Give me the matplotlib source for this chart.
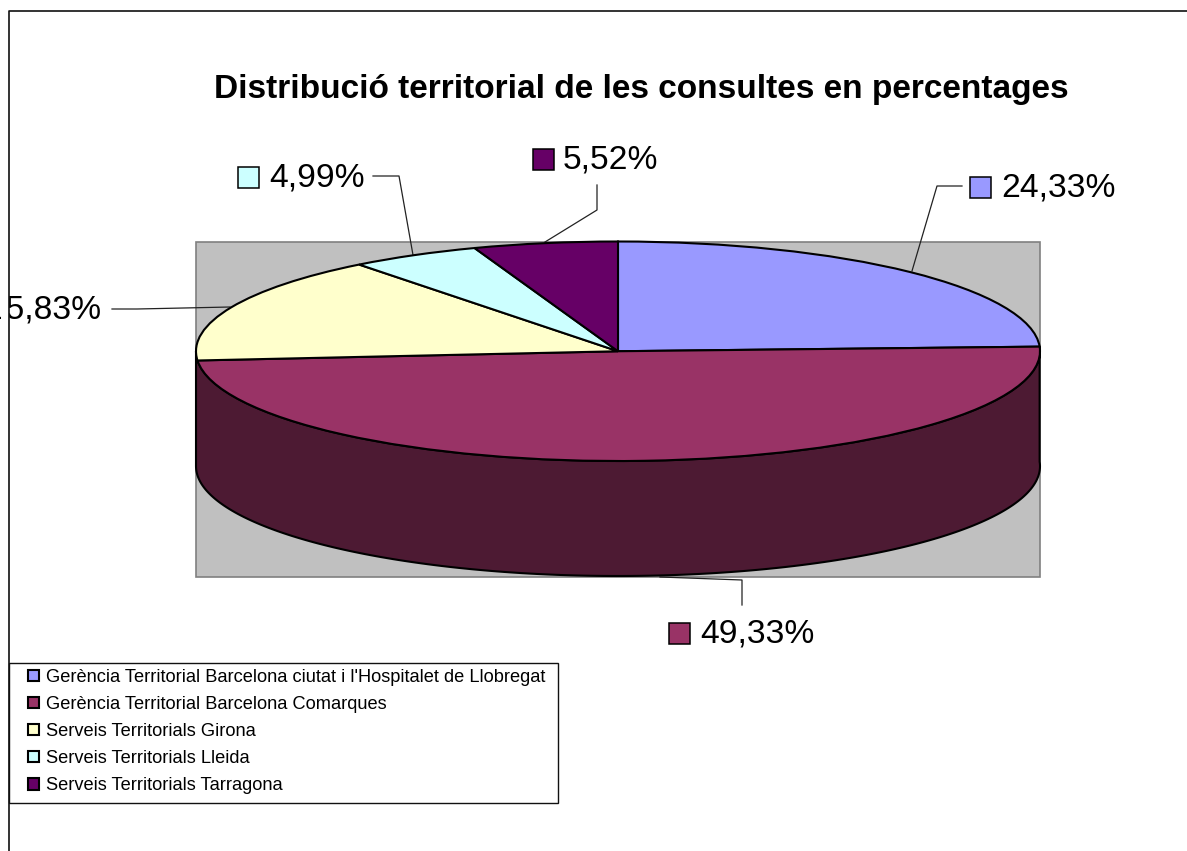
import numpy as np
import matplotlib
matplotlib.use('Agg')
import matplotlib.pyplot as plt
from matplotlib.patches import Rectangle

W, H = 1187, 851

# data
categories = ["Gerència Territorial Barcelona ciutat i l'Hospitalet de Llobregat",
              "Gerència Territorial Barcelona Comarques",
              "Serveis Territorials Girona",
              "Serveis Territorials Lleida",
              "Serveis Territorials Tarragona"]
values = [24.33, 49.33, 15.83, 4.99, 5.52]
value_labels = ['24,33%', '49,33%', '15,83%', '4,99%', '5,52%']
colors = ['#9999FF', '#993366', '#FFFFCC', '#CCFFFF', '#660066']
wall_color = '#4D1A33'
title = 'Distribució territorial de les consultes en percentages'

plt.rcParams['font.family'] = ['Liberation Sans', 'DejaVu Sans']

fig = plt.figure(figsize=(W / 100, H / 100), dpi=100, facecolor='white')

# background axes in pixel coords
bg = fig.add_axes([0, 0, 1, 1])
bg.set_xlim(0, W)
bg.set_ylim(H, 0)
bg.axis('off')

# grey plot area
bg.add_patch(Rectangle((196, 241.5), 844, 335, facecolor='#C0C0C0', edgecolor='#808080', lw=1.2))

bg.text(641, 98, title, fontsize=24.15, fontweight='bold', ha='center', va='baseline')

# leader lines
leaders = [([912, 937, 962], [271, 186, 186]),
           ([660, 742, 742], [577, 580, 605]),
           ([112, 137, 230], [309, 309, 307]),
           ([373, 399, 413], [176, 176, 255]),
           ([597, 597, 545], [185, 210, 242])]
for lx, ly in leaders:
    bg.plot(lx, ly, color='#222222', lw=0.9)

# value labels with their colour keys
key_xy = [(970, 177), (669, 623), None, (238, 167), (533, 149)]
text_xy = [(1001, 188), (700, 634), (-12, 310), (269, 178), (563, 160)]
for i, lab in enumerate(value_labels):
    if key_xy[i] is not None:
        bg.add_patch(Rectangle(key_xy[i], 21, 21, facecolor=colors[i], edgecolor='black', lw=1.1))
    bg.text(text_xy[i][0], text_xy[i][1], lab, fontsize=24.2, ha='left', va='center', zorder=3)

# the label on the left runs under the chart's edge, only a sliver of the 1 is left of it
bg.add_patch(Rectangle((1, 285), 7.8, 50, facecolor='white', edgecolor='none', zorder=4))

# chart border (only top and left show)
bg.plot([8.8, 8.8, W], [H, 10.8, 10.8], color='#111111', lw=1.2, zorder=5)

# pie top, flattened by the axes shape
cx0, cx1, ctop, cbot = 196, 1040, 241.5, 461
pie_ax = fig.add_axes([cx0 / W, 1 - cbot / H, (cx1 - cx0) / W, (cbot - ctop) / H])
pie_ax.patch.set_visible(False)
wedges, _ = pie_ax.pie(values, colors=colors, startangle=90, counterclock=False, radius=1,
                       wedgeprops=dict(edgecolor='black', linewidth=1.5), normalize=True)
for w in wedges:
    w.set_clip_on(False)
pie_ax.set_aspect('auto')
pie_ax.set_xlim(-1, 1)
pie_ax.set_ylim(-1, 1)

# side wall of the front slice
depth = 115 / ((cbot - ctop) / 2)
t0 = np.radians(values[0] / 100 * 360)
t1 = np.radians(270)
th = np.linspace(t0, t1, 200)
xs = np.sin(th)
ys = np.cos(th)
pie_ax.fill(np.r_[xs, xs[::-1]], np.r_[ys, ys[::-1] - depth], facecolor=wall_color, edgecolor='black',
            lw=1.5, clip_on=False, zorder=0.5)

# legend frame is its own box, the legend is only keys and text
bg.add_patch(Rectangle((8.8, 663), 549.5, 140, facecolor='white', edgecolor='#111111', lw=1))
leg = fig.legend(wedges, categories, loc='upper left', bbox_to_anchor=(28 / W, 1 - 669 / H), borderaxespad=0,
                 fontsize=13.18, frameon=False, handlelength=0.58, handleheight=0.58, handletextpad=0.41,
                 labelspacing=0.55, borderpad=0)

fig.savefig('out.png', dpi=100)
